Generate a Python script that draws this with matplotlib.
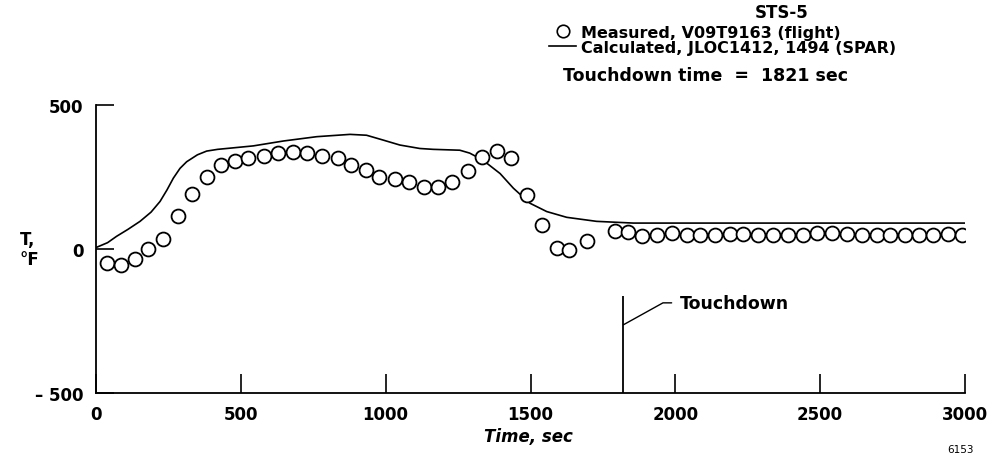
import numpy as np
import matplotlib as mpl
mpl.use('agg')
import matplotlib.pyplot as plt

plt.rcParams['font.family'] = ['DejaVu Sans']
plt.rcParams['font.weight'] = 'bold'

# measured (flight) points, V09T9163
meas_t = [37, 85, 135, 181, 230, 284, 330, 382, 430, 480, 526, 580, 629, 681,
          729, 779, 834, 879, 931, 978, 1032, 1082, 1132, 1180, 1228, 1285,
          1331, 1383, 1431, 1487, 1538, 1590, 1634, 1694, 1791, 1837, 1884,
          1935, 1987, 2039, 2085, 2137, 2188, 2235, 2286, 2338, 2390, 2442,
          2488, 2540, 2591, 2643, 2695, 2741, 2792, 2842, 2890, 2942, 2988]
meas_T = [-48, -54, -34, 1, 36, 113, 190, 251, 290, 305, 315, 324, 335, 338,
          335, 323, 315, 290, 275, 251, 243, 232, 215, 215, 231, 271,
          321, 340, 317, 188, 82, 3, -2, 27, 61, 59, 44,
          50, 55, 50, 47, 47, 52, 52, 50, 47, 47, 50,
          55, 55, 52, 50, 50, 50, 47, 50, 50, 52, 50]

# calculated (SPAR), JLOC1412, 1494
calc_t = [0, 40, 71, 110, 152, 190, 221, 245, 267, 290, 313, 350, 382, 420,
          451, 543, 647, 762, 877, 934, 992, 1049, 1118, 1164, 1256, 1290,
          1320, 1349, 1395, 1441, 1498, 1556, 1625, 1728, 1855, 3000]
calc_T = [5, 22, 44, 68, 96, 128, 165, 205, 246, 280, 303, 327, 340, 346,
          349, 358, 375, 390, 398, 395, 378, 361, 349, 346, 343, 333,
          317, 298, 262, 211, 159, 130, 110, 96, 90, 90]

touchdown = 1821
xticks = [0, 500, 1000, 1500, 2000, 2500, 3000]
yticks = [-500, 0, 500]
ylabels = ['\u2013 500', '0', '500']

W, H = 991, 460
fs = 12
fig = plt.figure(figsize=(W / 100, H / 100), dpi=100)
ax = fig.add_axes([96 / W, 1 - 394 / H, 869 / W, (394 - 106) / H])

ax.plot(calc_t, calc_T, '-', color='black', linewidth=1.2)
ax.plot(meas_t, meas_T, 'o', markersize=10, markerfacecolor='white',
        markeredgecolor='black', markeredgewidth=1.3, linestyle='none')

ax.set_xlim(0, 3000)
ax.set_ylim(-500, 500)
ax.spines['top'].set_visible(False)
ax.spines['right'].set_visible(False)
for s in ('left', 'bottom'):
    ax.spines[s].set_linewidth(1.3)

ax.set_xticks(xticks)
ax.set_yticks(yticks)
ax.set_yticklabels(ylabels)
ax.tick_params(axis='x', direction='in', length=14, width=1.2, pad=9,
               labelsize=fs)
ax.tick_params(axis='y', direction='in', length=13, width=1.2, pad=9,
               labelsize=fs)
for lab in ax.get_xticklabels() + ax.get_yticklabels():
    lab.set_fontweight('bold')

ax.text(-0.0875, 0.5, 'T,\n\u00b0F', transform=ax.transAxes, ha='left',
        va='center', fontsize=fs, fontweight='bold', linespacing=1.1)
fig.text(528 / W, 1 - 437 / H, 'Time, sec', ha='center', va='center',
         fontsize=fs, fontweight='bold', style='italic')
fig.text(961 / W, 1 - 450 / H, '6153', ha='center', va='center',
         fontsize=7.5, fontweight='normal')

# touchdown marker
ax.vlines(touchdown, -500, -163, color='black', linewidth=1.3)
ax.annotate('Touchdown', xy=(touchdown, -263), xytext=(2016, -187),
            ha='left', va='center', fontsize=12.5, fontweight='bold',
            arrowprops=dict(arrowstyle='-', color='black', linewidth=1.0,
                            relpos=(0, 0.5), shrinkA=4, shrinkB=0,
                            connectionstyle='angle,angleA=0,angleB=29,rad=0'))

# legend block
fig.text(782 / W, 1 - 13 / H, 'STS-5', ha='center', va='center',
         fontsize=fs, fontweight='bold')
h1, = ax.plot([], [], 'o', markersize=9, markerfacecolor='white',
              markeredgecolor='black', markeredgewidth=1.2)
h2, = ax.plot([], [], '-', color='black', linewidth=1.2)
ax.legend([h1, h2], ['Measured, V09T9163 (flight)',
                     'Calculated, JLOC1412, 1494 (SPAR)'],
          loc='upper left', bbox_to_anchor=(549 / W, 1 - 26 / H),
          bbox_transform=fig.transFigure, frameon=False, borderpad=0,
          borderaxespad=0, handlelength=1.7, handletextpad=0.3,
          labelspacing=0.0, prop=dict(size=11.5, weight='bold'))
fig.text(563 / W, 1 - 76 / H, 'Touchdown time  =  1821 sec', ha='left',
         va='center', fontsize=12.5, fontweight='bold')

fig.savefig('out.png', dpi=100)
